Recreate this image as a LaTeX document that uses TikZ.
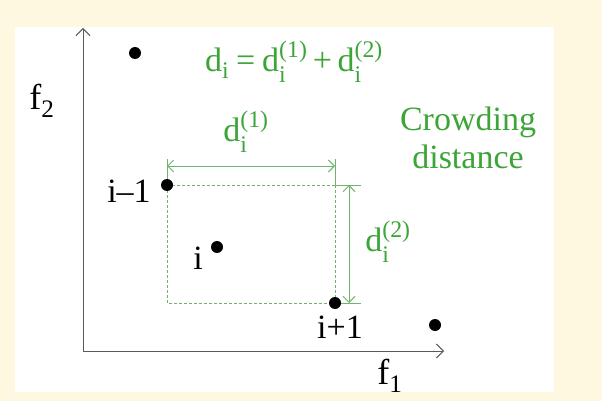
\documentclass[tikz,border=0pt]{standalone}
\usepackage{amsmath}
\usepackage{fontspec}
\setmainfont{Liberation Serif}
\usetikzlibrary{arrows.meta, positioning}

\definecolor{cream}{RGB}{254,248,224}
\definecolor{crowdgreen}{RGB}{60,165,55}
\definecolor{dimgreen}{RGB}{110,180,110}
\definecolor{axisgray}{RGB}{90,90,90}

\newcommand{\dpart}[1]{\mathrm{d}_{\mathrm{i}}^{\text{(#1)}}}

\begin{document}
\begin{tikzpicture}[x=1pt, y=-1pt, font=\fontsize{34}{38}\selectfont,
        point/.style={circle, fill=black, inner sep=0pt, minimum size=12pt},
        lbl/.style={inner sep=0pt},
        axislbl/.style={inner sep=0pt, font=\fontsize{36}{40}\selectfont},
        greenlbl/.style={inner sep=0pt, text=crowdgreen},
        dimline/.style={dimgreen, line width=0.9pt},
        dimarrow/.style={dimgreen, line width=0.9pt, {Straight Barb[length=6pt]}-{Straight Barb[length=6pt]}},
        guide/.style={dimgreen, line width=0.9pt, dash pattern=on 3pt off 2pt},
        axis/.style={axisgray, line width=1pt, -{Straight Barb[length=7pt]}}]

      % 1. Background and frame
      \useasboundingbox (0,0) rectangle (602,401);
      \fill[cream] (0,0) rectangle (602,401);
      \fill[white] (15,27) rectangle (554,392);

      % 2. Axes
      \coordinate (origin) at (83,351);
      \coordinate (f2end) at (83,28);
      \coordinate (f1end) at (444,351);
      \draw[axis] (origin) -- (f2end);
      \draw[axis] (origin) -- (f1end);
      \node[axislbl] (f2) at (42,101) {f\textsubscript{2}};
      \node[axislbl] (f1) at (390,376) {f\textsubscript{1}};

      % 3. Guide rectangle and dimension lines
      \coordinate (tl) at (167,185);
      \coordinate (tr) at (335,185);
      \coordinate (bl) at (167,303);
      \coordinate (br) at (335,303);
      \coordinate (tlup) at (167,159);
      \coordinate (trup) at (335,159);
      \coordinate (tright) at (361,185);
      \coordinate (bright) at (361,303);
      \draw[guide] (tl) -- (bl) -- (br);
      \draw[guide] (tl) -- (tr);
      \draw[guide] (tr) -- (br);
      \draw[dimline] (tl) -- (tlup);
      \draw[dimline] (tr) -- (trup);
      \draw[dimline] (tr) -- (tright);
      \draw[dimline] (br) -- (bright);
      \coordinate (h1) at (167,166);
      \coordinate (h2) at (335,166);
      \coordinate (v1) at (349,185);
      \coordinate (v2) at (349,303);
      \draw[dimarrow] (h1) -- (h2);
      \draw[dimarrow] (v1) -- (v2);

      % 4. Solutions
      \node[point] (ptop) at (135,53) {};
      \node[point] (pprev) at (167,185) {};
      \node[point] (pcur) at (217,247) {};
      \node[point] (pnext) at (335,303) {};
      \node[point] (pfar) at (435,325) {};
      \node[lbl] (lprev) at (129,191) {i\textendash 1};
      \node[lbl] (lcur) at (198,258) {i};
      \node[lbl] (lnext) at (340,327) {i+1};

      % 5. Green labels
      \node[greenlbl] (sum) at (294,62) {$\mathrm{d}_{\mathrm{i}} \mathrel{\text{=}} \dpart{1} \mathbin{\text{+}} \dpart{2}$};
      \node[greenlbl, align=center] (crowd) at (468,138) {Crowding\\distance};
      \node[greenlbl] (dfirst) at (246,132) {$\dpart{1}$};
      \node[greenlbl] (dsecond) at (388,242) {$\dpart{2}$};
    \end{tikzpicture}
\end{document}
